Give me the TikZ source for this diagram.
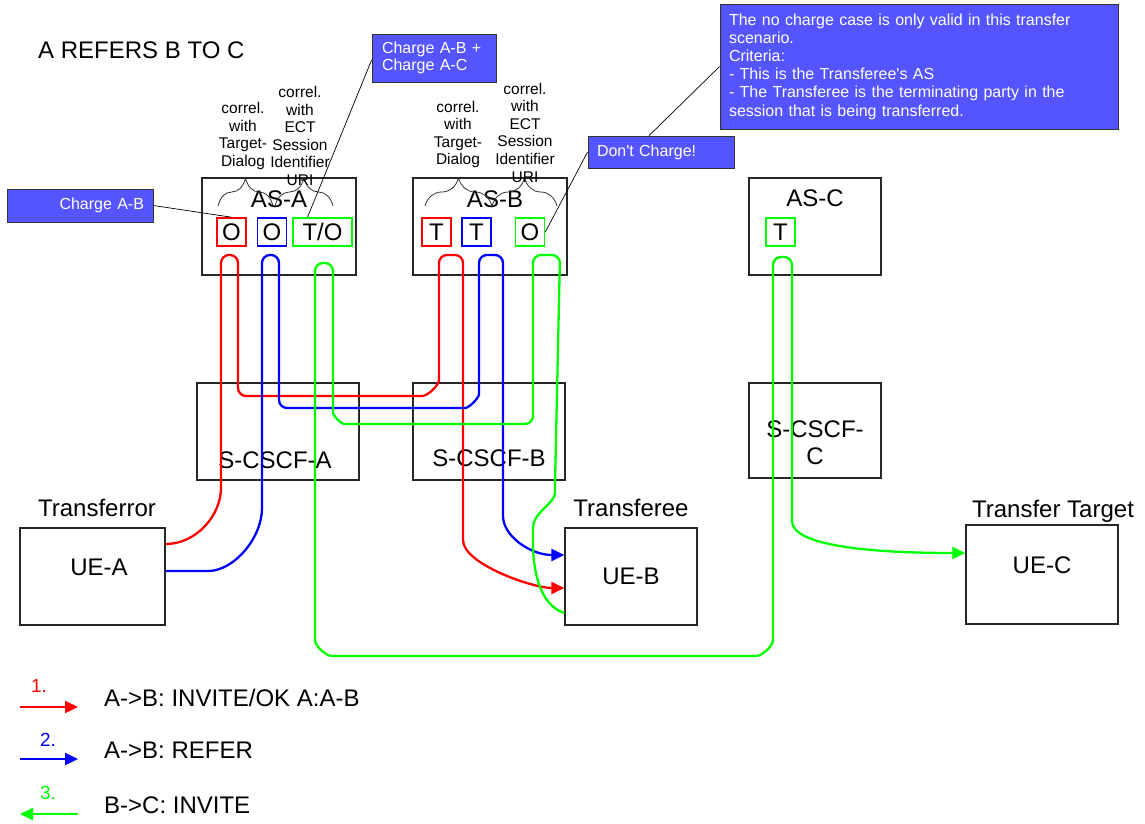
\documentclass[tikz,border=0pt]{standalone}
\usepackage{fontspec}
\setmainfont{Liberation Sans}
\usetikzlibrary{arrows.meta,positioning,decorations.pathreplacing}

\definecolor{noteblue}{RGB}{85,85,255}
\definecolor{sigred}{RGB}{255,0,0}
\definecolor{sigblue}{RGB}{0,0,255}
\definecolor{siggreen}{RGB}{0,255,0}

\newcommand{\mainfs}{\fontsize{24}{27}\selectfont}
\newcommand{\legfs}{\fontsize{24}{27}\selectfont}
\newcommand{\corrfs}{\fontsize{15.5}{17.6}\selectfont}
\newcommand{\notefs}{\fontsize{16}{18.2}\selectfont}
\newcommand{\numfs}{\fontsize{19}{22}\selectfont}

\tikzset{
  entity/.style 2 args={draw=black!85, line width=1.2pt, minimum width=#1, minimum height=#2, inner sep=0pt},
  port/.style={draw=#1, line width=1.6pt, minimum width=29pt, minimum height=28pt, inner sep=0pt, font=\mainfs},
  tag/.style={font=\mainfs, inner sep=0pt},
  corr/.style={font=\corrfs, align=center, inner sep=0pt},
  note/.style={draw=black!80, line width=0.8pt, fill=noteblue, text=white, font=\notefs, inner sep=0pt},
  pointer/.style={draw=black, line width=0.7pt},
  corrbrace/.style={draw=black!80, line width=0.8pt, decorate, decoration={brace, amplitude=28pt}},
  sig/.style={line width=2.3pt, rounded corners=8pt},
  sigtip/.style={-{Triangle[length=13pt,width=12pt]}},
}

\begin{document}
\begin{tikzpicture}[x=1pt, y=-1pt]
  \useasboundingbox (0,0) rectangle (1145,823);

  \node[tag, anchor=base west] (title) at (38,58.5) {A REFERS B TO C};

  % application servers
  \node[entity={154pt}{97pt}] (asa) at (279,226.5) {};
  \node[entity={154pt}{97pt}] (asb) at (490,226.5) {};
  \node[entity={132pt}{97pt}] (asc) at (815,226.5) {};
  \node[tag, anchor=base] (asalbl) at ([yshift=-30pt]asa.north) {AS-A};
  \node[tag, anchor=base] (asblbl) at ([xshift=5pt,yshift=-30pt]asb.north) {AS-B};
  \node[tag, anchor=base] (asclbl) at ([yshift=-29pt]asc.north) {AS-C};

  \node[port=sigred] (aor) at (231.5,232) {O};
  \node[port=sigblue] (aob) at (272,232) {O};
  \node[port=siggreen, minimum width=59pt] (atog) at (322.5,232) {T/O};
  \node[port=sigred] (btr) at (436.5,232) {T};
  \node[port=sigblue] (btb) at (476.5,232) {T};
  \node[port=siggreen] (bog) at (530,232) {O};
  \node[port=siggreen] (ctg) at (780.5,232) {T};

  % correlation braces
  \draw[corrbrace] (218,206) -- (273,206);
  \draw[corrbrace] (275,206) -- (333,206);
  \draw[corrbrace] (425,206) -- (492,206);
  \draw[corrbrace] (492,206) -- (557,206);
  \node[corr] (acorrtd) at (243,136) {correl.\\with\\Target-\\Dialog};
  \node[corr] (acorrect) at (300,136) {correl.\\with\\ECT\\Session\\Identifier\\URI};
  \node[corr] (bcorrtd) at (458,134.5) {correl.\\with\\Target-\\Dialog};
  \node[corr] (bcorrect) at (525,132.5) {correl.\\with\\ECT\\Session\\Identifier\\URI};

  % S-CSCFs
  \node[entity={162pt}{97pt}] (sa) at (278,431.5) {};
  \node[entity={152pt}{97pt}] (sb) at (489,431.5) {};
  \node[entity={132pt}{95pt}] (scc) at (815,430.5) {};
  \node[tag, anchor=base] (salbl) at ([xshift=-3pt,yshift=12pt]sa.south) {S-CSCF-A};
  \node[tag, anchor=base] (sblbl) at ([yshift=14pt]sb.south) {S-CSCF-B};
  \node[tag, align=center] (scclbl) at ([yshift=-12pt]scc.center) {S-CSCF-\\C};

  % user equipment
  \node[entity={145pt}{97pt}] (uea) at (92.5,576.5) {};
  \node[entity={132pt}{97pt}] (ueb) at (631,576.5) {};
  \node[entity={152pt}{99pt}] (uec) at (1042,574.5) {};
  \node[tag, anchor=base] (uealbl) at ([xshift=6.5pt,yshift=1.5pt]uea.center) {UE-A};
  \node[tag, anchor=base] (ueblbl) at ([yshift=-7.5pt]ueb.center) {UE-B};
  \node[tag, anchor=base] (ueclbl) at ([yshift=1.5pt]uec.center) {UE-C};
  \node[tag, anchor=base] (tferror) at ([xshift=4.5pt,yshift=11pt]uea.north) {Transferror};
  \node[tag, anchor=base] (tferee) at ([yshift=11pt]ueb.north) {Transferee};
  \node[tag, anchor=base] (ttarget) at ([xshift=11pt,yshift=7pt]uec.north) {Transfer Target};

  % charging notes
  \node[note, minimum width=146pt, minimum height=33pt, text width=128pt, align=right] (cab) at (80,205.5) {Charge A-B};
  \node[note, minimum width=124pt, minimum height=48pt, text width=104pt, align=left,
        font=\fontsize{16}{17}\selectfont] (cac) at (434,58) {Charge A-B +\\Charge A-C};
  \node[note, minimum width=146pt, minimum height=32pt, text width=128pt, align=left] (cdc) at (661,152) {Don\textquotesingle t Charge!};
  \node[note, minimum width=398pt, minimum height=125pt, text width=380pt, align=left] (cnote) at (919,66.5)
    {The no charge case is only valid in this transfer\\scenario.\\Criteria:\\- This is the Transferee\textquotesingle s AS\\- The Transferee is the terminating party in the\\session that is being transferred.};
  \draw[pointer] (cab.east) -- (aor.north);
  \draw[pointer] ([yshift=-2pt]cac.west) -- ([xshift=-15pt]atog.north);
  \draw[pointer] (cdc.west) -- (bog.east);
  \draw[pointer] ([xshift=-12pt]cdc.north) -- (cnote.west);

  % 1. INVITE/OK A to B
  \draw[sig, sigred, sigtip] ([yshift=32.5pt]uea.east)
    .. controls +(31,0) and +(0,35) .. (221,480)
    -- (221,255) -- (238,255) -- (238,396) -- (414,396)
    .. controls +(14,0) and +(0,13) .. (439,372)
    -- (439,255) -- (463,255) -- (463,532)
    .. controls +(0,32) and +(-32,0) .. ([yshift=-11.5pt]ueb.west);
  % 2. REFER A to B
  \draw[sig, sigblue, sigtip] ([yshift=5.5pt]uea.east) -- (200,571)
    .. controls +(34,0) and +(0,38) .. (262,500)
    -- (262,255) -- (279,255) -- (279,408) -- (457,408)
    .. controls +(12,0) and +(0,12) .. (479,386)
    -- (479,255) -- (503,255) -- (503,508)
    .. controls +(0,28) and +(-34,0) .. ([yshift=21.5pt]ueb.west);
  % 3. INVITE B to C
  \draw[sig, siggreen, sigtip] ([yshift=-36.5pt]ueb.west)
    .. controls +(-25,-8) and +(0,35) .. (533,535)
    .. controls +(0,-22) and +(0,18) .. (555,485)
    -- (560,255) -- (533,255) -- (533,424) -- (353,424)
    .. controls +(-12,0) and +(0,12) .. (333,404)
    -- (333,263) -- (315,263) -- (315,632)
    .. controls +(0,14) and +(-14,0) .. (340,656)
    -- (748,656)
    .. controls +(14,0) and +(0,14) .. (773,632)
    -- (773,257) -- (792,257) -- (792,513)
    .. controls +(0,32) and +(-100,0) .. ([yshift=21.5pt]uec.west);

  % legend
  \coordinate (k1a) at (20,707);  \coordinate (k1b) at (78,707);
  \coordinate (k2a) at (20,759);  \coordinate (k2b) at (78,759);
  \coordinate (k3a) at (20,814);  \coordinate (k3b) at (78,814);
  \draw[sig, sigred, sigtip] (k1a) -- (k1b);
  \draw[sig, sigblue, sigtip] (k2a) -- (k2b);
  \draw[sig, siggreen, sigtip] (k3b) -- (k3a);
  \node[font=\numfs, text=sigred, inner sep=0pt] (n1) at (39,686) {1.};
  \node[font=\numfs, text=sigblue, inner sep=0pt] (n2) at (48,740) {2.};
  \node[font=\numfs, text=siggreen, inner sep=0pt] (n3) at (48,793) {3.};
  \node[font=\legfs, inner sep=0pt, right=26pt of k1b, yshift=9pt] (t1) {A->B: INVITE/OK A:A-B};
  \node[font=\legfs, inner sep=0pt, right=26pt of k2b, yshift=9pt] (t2) {A->B: REFER};
  \node[font=\legfs, inner sep=0pt, right=26pt of k3b, yshift=9pt] (t3) {B->C: INVITE};
\end{tikzpicture}
\end{document}
